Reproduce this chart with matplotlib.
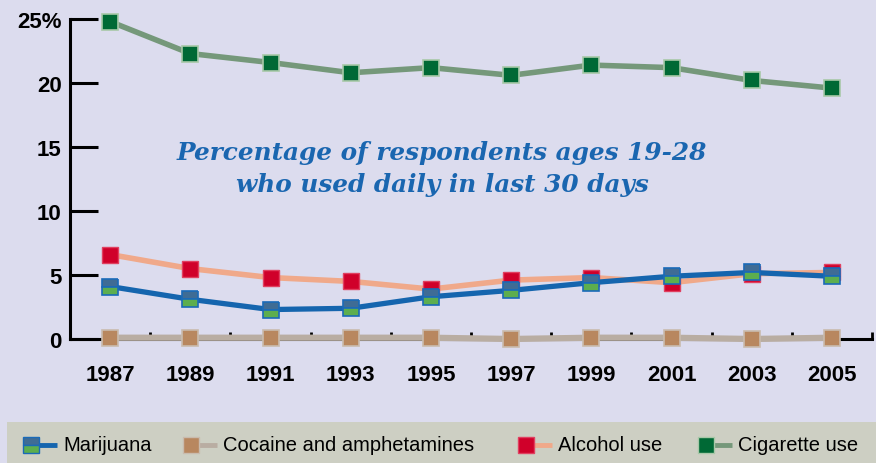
import matplotlib
matplotlib.use("Agg")
import matplotlib.pyplot as plt

years = [1987, 1989, 1991, 1993, 1995, 1997, 1999, 2001, 2003, 2005]
marijuana = [4.1, 3.1, 2.3, 2.4, 3.3, 3.8, 4.4, 4.9, 5.2, 4.9]
cocaine = [0.1, 0.1, 0.1, 0.1, 0.1, 0.0, 0.1, 0.1, 0.0, 0.1]
alcohol = [6.6, 5.5, 4.8, 4.5, 3.9, 4.6, 4.8, 4.4, 5.1, 5.2]
cigarette = [24.8, 22.3, 21.6, 20.8, 21.2, 20.6, 21.4, 21.2, 20.2, 19.6]
yticks = [0, 5, 10, 15, 20, 25]
ytick_labels = ["0", "5", "10", "15", "20", "25%"]
minor_years = [1988, 1990, 1992, 1994, 1996, 1998, 2000, 2002, 2004, 2006]
title_lines = "Percentage of respondents ages 19-28\nwho used daily in last 30 days"
legend_labels = ["Marijuana", "Cocaine and amphetamines", "Alcohol use", "Cigarette use"]

bg = "#DCDCEE"
fig = plt.figure(figsize=(8.76, 4.64), dpi=100, facecolor=bg)
ax = fig.add_axes([70/876, 124/464, 802/876, 320/464])
ax.set_facecolor(bg)

ms = 12
styles = {
    "cocaine": dict(color="#B9ADA2", lw=4.5, marker="s", ms=ms, mfc="#B8875F", mec="#C9BBAE", mew=1.2),
    "alcohol": dict(color="#F0A98A", lw=4, marker="s", ms=ms, mfc="#D0002A", mec="#E04060", mew=1.0),
    "marijuana": dict(color="#1565AE", lw=3.8, marker="s", ms=ms, mfc="#3F6C95", mfcalt="#5DAE4E",
                      fillstyle="top", mec="#1A6AB8", mew=1.2),
    "cigarette": dict(color="#75987A", lw=4, marker="s", ms=ms, mfc="#006935", mec="#A8C8A8", mew=1.2),
}
series = {"cocaine": cocaine, "alcohol": alcohol, "marijuana": marijuana, "cigarette": cigarette}
for z, (name, vals) in enumerate(series.items()):
    ax.plot(years, vals, clip_on=False, zorder=5 + z, **styles[name])

ax.set_xlim(1986, 2006)
ax.set_ylim(0, 25)
for s in ["top", "right"]:
    ax.spines[s].set_visible(False)
ax.spines["left"].set_linewidth(2.2)
ax.spines["bottom"].set_linewidth(2.2)
ax.spines["bottom"].set_zorder(1)

ax.set_yticks(yticks)
ax.set_yticklabels(ytick_labels)
ax.tick_params(axis="y", direction="in", length=20, width=2.2, pad=6,
               labelsize=16)
ax.set_xticks(years)
ax.set_xticklabels([str(y) for y in years])
ax.tick_params(axis="x", which="major", length=0, pad=18, labelsize=16)
ax.set_xticks(minor_years, minor=True)
ax.tick_params(axis="x", which="minor", direction="in", length=5, width=2)
for lab in ax.get_xticklabels() + ax.get_yticklabels():
    lab.set_fontweight("bold")
    lab.set_family("Liberation Sans")

ax.text(0.464, 0.534, title_lines, transform=ax.transAxes, ha="center", va="center",
        family="DejaVu Serif", style="italic", weight="bold", fontsize=17.8,
        color="#1A66B0", linespacing=1.45)

# legend band
band = fig.add_axes([7/876, 0, 869/876, 41/464])
band.set_xlim(7, 876)
band.set_ylim(0, 41)
band.axis("off")
band.add_patch(plt.Rectangle((7, 0), 869, 41, color="#CDCFC3", zorder=0))
order = ["marijuana", "cocaine", "alcohol", "cigarette"]
marker_left = [23, 183, 518, 698]
for name, lab, x0 in zip(order, legend_labels, marker_left):
    st = styles[name]
    band.plot([x0 + 8, x0 + 34], [18, 18], color=st["color"], lw=3.5,
              solid_capstyle="butt", zorder=2)
    kw = dict(marker="s", ms=11.5, mfc=st["mfc"], mec=st["mec"], mew=1.0)
    if name == "marijuana":
        kw.update(fillstyle="top", mfcalt=st["mfcalt"])
    band.plot([x0 + 8], [18], zorder=3, **kw)
    band.text(x0 + 40, 18, lab, ha="left", va="center", fontsize=14.5,
              family="Liberation Sans", color="black")

fig.savefig("out.png", dpi=100, facecolor=bg)
